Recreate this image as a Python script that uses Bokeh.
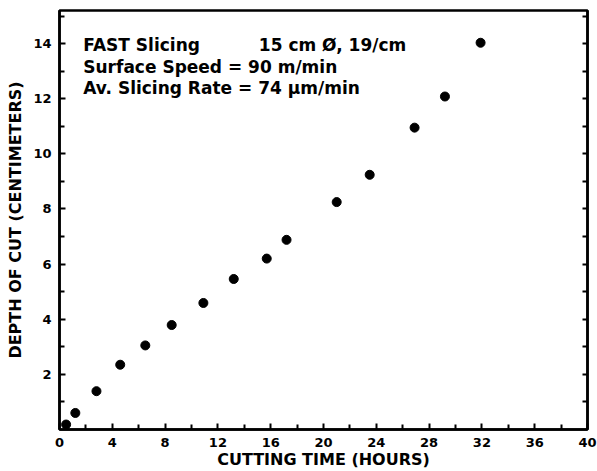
from bokeh.plotting import figure
from bokeh.models import LinearAxis, FixedTicker, Range1d, Label, CustomJSTickFormatter
from bokeh.embed import file_html
from bokeh.resources import INLINE

# data
time_hours = [0.5, 1.2, 2.8, 4.6, 6.5, 8.5, 10.9, 13.2, 15.7, 17.2, 21.0, 23.5, 26.9, 29.2, 31.9]
depth_cm = [0.18, 0.6, 1.39, 2.35, 3.05, 3.79, 4.59, 5.46, 6.2, 6.88, 8.25, 9.24, 10.95, 12.08, 14.03]

x_major = [0, 4, 8, 12, 16, 20, 24, 28, 32, 36, 40]
x_minor = [2, 6, 10, 14, 18, 22, 26, 30, 34, 38]
y_major = [2, 4, 6, 8, 10, 12, 14]
y_minor = [1, 3, 5, 7, 9, 11, 13, 15]
y_all = [1, 2, 3, 4, 5, 6, 7, 8, 9, 10, 11, 12, 13, 14, 15]

notes_left = ["FAST Slicing", "Surface Speed  = 90 m/min", "Av. Slicing Rate = 74 \u00b5m/min"]
note_right = "15 cm \u00d8, 19/cm"
x_title = "CUTTING TIME (HOURS)"
y_title = "DEPTH OF CUT (CENTIMETERS)"

WIDE = "DejaVu Sans"

p = figure(width=597, height=471, output_backend="svg", toolbar_location=None,
           x_range=Range1d(0, 40), y_range=Range1d(0, 15.2),
           min_border_left=59, min_border_top=10, min_border_right=10, min_border_bottom=41,
           background_fill_color="white", border_fill_color="white")
p.grid.visible = False
p.outline_line_color = "black"
p.outline_line_width = 2.5

xa = p.xaxis[0]
xa.ticker = FixedTicker(ticks=x_major, minor_ticks=x_minor)
xa.axis_label = x_title
ya = p.yaxis[0]
ya.ticker = FixedTicker(ticks=y_major, minor_ticks=y_minor)
ya.axis_label = y_title

for ax in (xa, ya):
    ax.axis_line_width = 2.5
    ax.axis_line_color = "black"
    ax.major_tick_in = 6
    ax.major_tick_out = 0
    ax.minor_tick_in = 5
    ax.minor_tick_out = 0
    ax.major_tick_line_width = 2
    ax.minor_tick_line_width = 2
    ax.major_label_text_font = WIDE
    ax.major_label_text_font_style = "bold"
    ax.major_label_text_font_size = "13px"
    ax.major_label_text_color = "black"
    ax.axis_label_text_font = WIDE
    ax.axis_label_text_font_style = "bold"
    ax.axis_label_text_color = "black"
    ax.axis_label_text_font_size = "16px"

xa.major_label_standoff = 8
xa.axis_label_standoff = 0
ya.major_label_standoff = 8
ya.axis_label_standoff = 5

ra = LinearAxis(ticker=FixedTicker(ticks=y_all),
                formatter=CustomJSTickFormatter(code="return ''"))
ra.axis_line_width = 2.5
ra.major_tick_in = 5
ra.major_tick_out = 0
ra.minor_tick_in = 0
ra.minor_tick_out = 0
ra.major_tick_line_width = 2
ra.major_label_standoff = 0
ra.major_label_text_font_size = "0px"
ra.axis_label_standoff = 0
ra.axis_label_text_font_size = "0px"
p.add_layout(ra, "right")

p.scatter(time_hours, depth_cm, size=9, color="black", marker="circle")

line_y = [13.95, 13.15, 12.39]
for txt, yy in zip(notes_left, line_y):
    p.add_layout(Label(x=1.8, y=yy, text=txt, text_font=WIDE, text_font_style="bold",
                       text_font_size="17px", text_baseline="middle", text_align="left",
                       text_color="black"))
p.add_layout(Label(x=15.1, y=line_y[0], text=note_right, text_font=WIDE, text_font_style="bold",
                   text_font_size="17px", text_baseline="middle", text_align="left",
                   text_color="black"))

open("out.html", "w").write(file_html(p, INLINE))
